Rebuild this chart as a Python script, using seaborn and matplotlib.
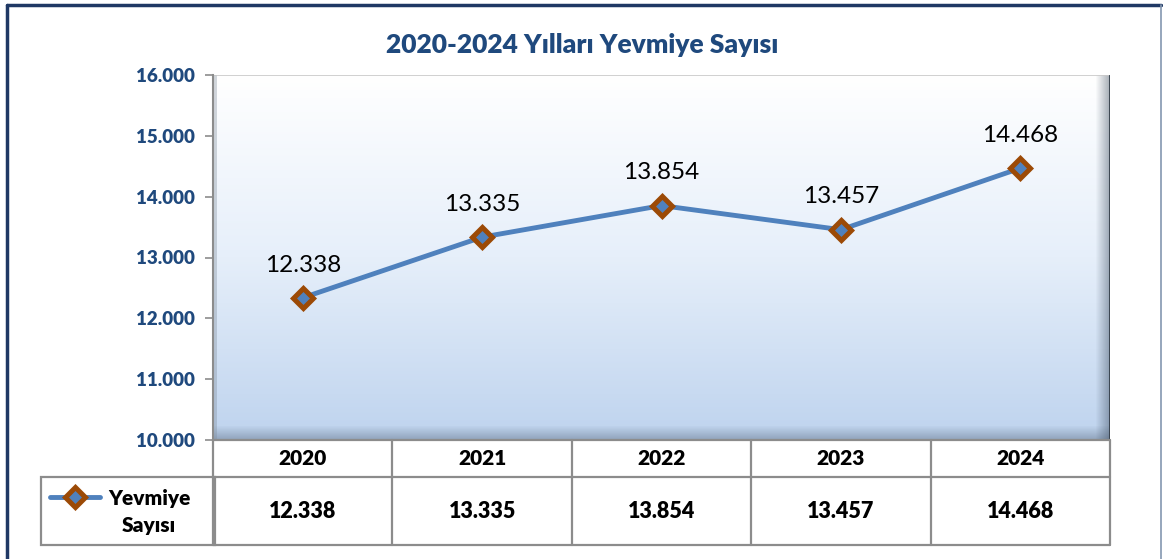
import matplotlib
matplotlib.use("Agg")
import matplotlib.pyplot as plt
import seaborn as sns
import numpy as np
import pandas as pd
from matplotlib.patches import Rectangle
from matplotlib.lines import Line2D

# chart data
years = ["2020", "2021", "2022", "2023", "2024"]
yevmiye = [12338, 13335, 13854, 13457, 14468]
y_ticks = [10000, 11000, 12000, 13000, 14000, 15000, 16000]
series_name = "Yevmiye\nSayısı"
title_text = "2020-2024 Yılları Yevmiye Sayısı"


def tr_fmt(value):
    return f"{value:,.0f}".replace(",", ".")


sns.set_theme(style="white")
plt.rcParams["font.family"] = ["Lato", "DejaVu Sans"]

W, H = 1163, 559
fig = plt.figure(figsize=(W / 100, H / 100), dpi=100)
fig.patch.set_facecolor("white")


def fx(px):
    return px / W


def fy(py):
    return 1 - py / H


# outer frame
fig.add_artist(Line2D([fx(7), fx(7)], [0, fy(5)], color="#1f3864", lw=2.5))
fig.add_artist(Line2D([fx(7), fx(1161)], [fy(5), fy(5)], color="#1f3864", lw=2.5))
fig.add_artist(Line2D([fx(1161), fx(1161)], [0, fy(5)], color="#8497b0", lw=1.2))

left, right, top, bottom = 213, 1110, 75, 440
ax = fig.add_axes([fx(left), fy(bottom), fx(right - left), fy(top) - fy(bottom)])

df = pd.DataFrame({"year": np.arange(len(years)), "value": yevmiye})

# gradient background of plot area
grad = np.linspace(0, 1, 256).reshape(-1, 1)
cmap = matplotlib.colors.LinearSegmentedColormap.from_list(
    "bg", ["#ffffff", "#e6effa", "#bed3ee"])
ax.imshow(grad, cmap=cmap, aspect="auto", extent=[0, 1, 0, 1], transform=ax.transAxes, zorder=0)

# bevel shading on the right and bottom edges
for i in range(14):
    a = 0.04 + 0.045 * i
    ax.add_patch(Rectangle((1 - (14 - i) * 0.0011, 0), 0.0011, 1, transform=ax.transAxes,
                           color="#3a4a5c", alpha=a * 0.7, lw=0, zorder=1))
    ax.add_patch(Rectangle((0, (13 - i) * 0.0028), 1, 0.0028, transform=ax.transAxes,
                           color="#3a4a5c", alpha=a * 0.55, lw=0, zorder=1))
ax.add_patch(Rectangle((0, 0), 0.004, 1, transform=ax.transAxes, color="#7f8c9a",
                       alpha=0.35, lw=0, zorder=1))
ax.plot([0, 1], [1, 1], transform=ax.transAxes, color="#c8c8c8", lw=1.2, zorder=2)
ax.plot([1, 1], [0, 1], transform=ax.transAxes, color="#333d48", lw=2, zorder=2)

sns.lineplot(data=df, x="year", y="value", ax=ax, color="#4f81bd", lw=3.5,
             marker="D", markersize=10.5, markerfacecolor="#4f81bd",
             markeredgecolor="#9c4a06", markeredgewidth=3.6, zorder=5)

for xi, v in zip(df["year"], df["value"]):
    ax.annotate(tr_fmt(v), (xi, v), xytext=(0, 16), textcoords="offset points",
                ha="center", va="bottom", fontsize=17.5, color="black", zorder=6)

ax.set_xlim(-0.5, len(years) - 0.5)
ax.set_ylim(y_ticks[0], y_ticks[-1])
ax.set_yticks(y_ticks)
ax.set_yticklabels([tr_fmt(t) for t in y_ticks], fontsize=13.5, fontweight="heavy",
                   color="#1f497d")
ax.set_xticks([])
ax.tick_params(axis="y", left=True, length=6, width=1.2, color="#8c8c8c", pad=7)
ax.set_xlabel("")
ax.set_ylabel("")
for s in ax.spines.values():
    s.set_visible(False)
ax.spines["left"].set_visible(True)
ax.spines["left"].set_color("#8c8c8c")
ax.spines["left"].set_linewidth(1.5)

fig.text(fx(582), fy(45), title_text, ha="center", va="center", fontsize=19,
         fontweight="heavy", color="#1f497d")

# data table below the plot, sharing the category scale
tb_bottom = 545
tax = fig.add_axes([fx(left), fy(tb_bottom), fx(right - left), fy(bottom) - fy(tb_bottom)],
                   sharex=ax)
tax.set_ylim(0, 105)
tax.axis("off")
grid_c = "#8c8c8c"
row_split = 105 - 37
n = len(years)
for k in range(n + 1):
    tax.plot([k - 0.5, k - 0.5], [0, 105], color=grid_c, lw=1.6, clip_on=False)
tax.plot([-0.5, n - 0.5], [row_split, row_split], color=grid_c, lw=1.6, clip_on=False)
tax.plot([-0.5, n - 0.5], [0, 0], color=grid_c, lw=1.6, clip_on=False)
tax.plot([-0.5, n - 0.5], [105, 105], color=grid_c, lw=1.6, clip_on=False)
for k, (yr, v) in enumerate(zip(years, yevmiye)):
    tax.text(k, row_split + 37 / 2, yr, ha="center", va="center", fontsize=15,
             fontweight="heavy", color="black")
    tax.text(k, row_split / 2, tr_fmt(v), ha="center", va="center", fontsize=15.5,
             fontweight="heavy", color="black")

# legend cell on the left of the value row
cell_left, cell_right = 41, 215
fig.add_artist(Rectangle((fx(cell_left), fy(tb_bottom)), fx(cell_right - cell_left),
                         fy(477) - fy(tb_bottom), fill=False, edgecolor=grid_c, lw=1.6))
fig.add_artist(Line2D([fx(50), fx(100)], [fy(497), fy(497)], color="#4f81bd", lw=3.5))
fig.add_artist(Line2D([fx(75)], [fy(497)], marker="D", markersize=10.5, color="#4f81bd",
                      markerfacecolor="#4f81bd", markeredgecolor="#9c4a06",
                      markeredgewidth=3.6))
fig.text(fx(149), fy(512), series_name, ha="center", va="center", fontsize=15,
         fontweight="heavy", color="black", linespacing=1.5)

fig.savefig("out.png", dpi=100)
plt.close(fig)
